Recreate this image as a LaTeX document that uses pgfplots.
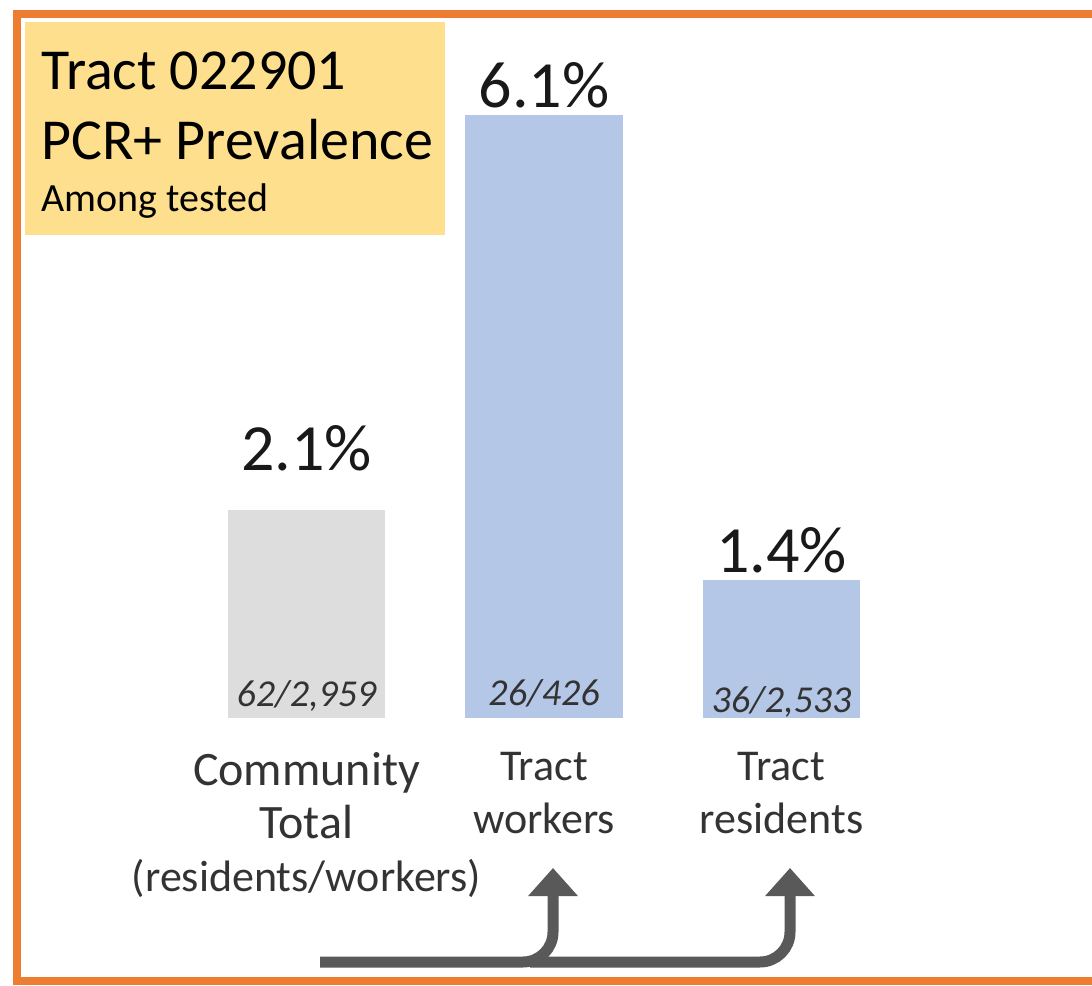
\documentclass[border=0pt]{standalone}
\usepackage{fontspec}
\setmainfont{Carlito}
\usepackage{pgfplots}
\pgfplotsset{compat=1.18}
\usetikzlibrary{arrows.meta}
\definecolor{frameorange}{RGB}{237,125,49}
\definecolor{titlefill}{RGB}{254,223,142}
\definecolor{bargray}{RGB}{221,221,221}
\definecolor{barblue}{RGB}{180,199,231}
\definecolor{arrowgray}{RGB}{89,89,89}

\newcommand{\biglabel}[1]{{\fontsize{24}{27}\selectfont #1}}

\begin{document}
\begin{tikzpicture}
\begin{axis}[
  name=ax,
  width=546pt, height=359pt, scale only axis,
  xmin=-1.2905, xmax=3.3074,
  ymin=0, ymax=7.264,
  clip=false,
  axis line style={draw=none},
  major tick length=0pt,
  ytick=\empty,
  xtick={0,1,2},
  xticklabels={{\biglabel{Community}\\\biglabel{Total}\\(residents/workers)},{Tract\\workers},{Tract\\residents}},
  xticklabel style={align=center, anchor=north, inner sep=0pt, yshift=-17pt,
    font=\fontsize{22}{26.5}\selectfont, text=black!80},
  /pgf/number format/assume math mode=true,
  nodes near coords={\pgfmathprintnumber[fixed,fixed zerofill,precision=1]{\pgfplotspointmeta}\%},
  every node near coord/.append style={anchor=base, inner sep=0pt,
    font=\fontsize{33}{38}\selectfont, text=black!90},
]
% community total
\addplot[ybar, bar width=78.5pt, bar shift=0pt, fill=bargray, draw=none,
  every node near coord/.append style={yshift=20pt}] coordinates {(0,2.1)};
% tract workers
\addplot[ybar, bar width=78.5pt, bar shift=0pt, fill=barblue, draw=none,
  every node near coord/.append style={yshift=4pt}] coordinates {(1,6.1)};
% tract residents
\addplot[ybar, bar width=78.5pt, bar shift=0pt, fill=barblue, draw=none,
  every node near coord/.append style={yshift=3.5pt}] coordinates {(2,1.4)};

% counts inside the bars
\node[anchor=base, inner sep=0pt, yshift=5.5pt, font=\fontsize{19}{23}\selectfont\itshape, text=black!80]
  at (axis cs:0,0) {62/2,959};
\node[anchor=base, inner sep=0pt, yshift=6.5pt, font=\fontsize{19}{23}\selectfont\itshape, text=black!80]
  at (axis cs:1,0) {26/426};
\node[anchor=base, inner sep=0pt, yshift=2.5pt, font=\fontsize{19}{23}\selectfont\itshape, text=black!80]
  at (axis cs:2,0) {36/2,533};
\end{axis}

% title box, frame and arrows, in pixels from the top left corner
\begin{scope}[shift={(ax.north west)}, x=0.5pt, y=-0.5pt]
  \fill[titlefill] (25,22) rectangle (445,235);
  \node[anchor=base west, inner sep=0pt, font=\fontsize{29}{35}\selectfont] at (41,90) {Tract 022901};
  \node[anchor=base west, inner sep=0pt, font=\fontsize{29}{35}\selectfont] at (41,160) {PCR+ Prevalence};
  \node[anchor=base west, inner sep=0pt, font=\fontsize{20}{24}\selectfont] at (41,212) {Among tested};
  \draw[frameorange, line width=4pt] (17,14) rectangle (1110,981);
  \draw[arrowgray, line width=5.5pt, rounded corners=15pt, -{Triangle[width=24pt,length=14pt]}]
    (320,962) -- (553,962) -- (553,868);
  \draw[arrowgray, line width=5.5pt, rounded corners=15pt, -{Triangle[width=24pt,length=14pt]}]
    (530,962) -- (790,962) -- (790,868);
\end{scope}
\pgfresetboundingbox
\useasboundingbox (ax.north west) rectangle ([yshift=-492.5pt]ax.north east);
\end{tikzpicture}
\end{document}
